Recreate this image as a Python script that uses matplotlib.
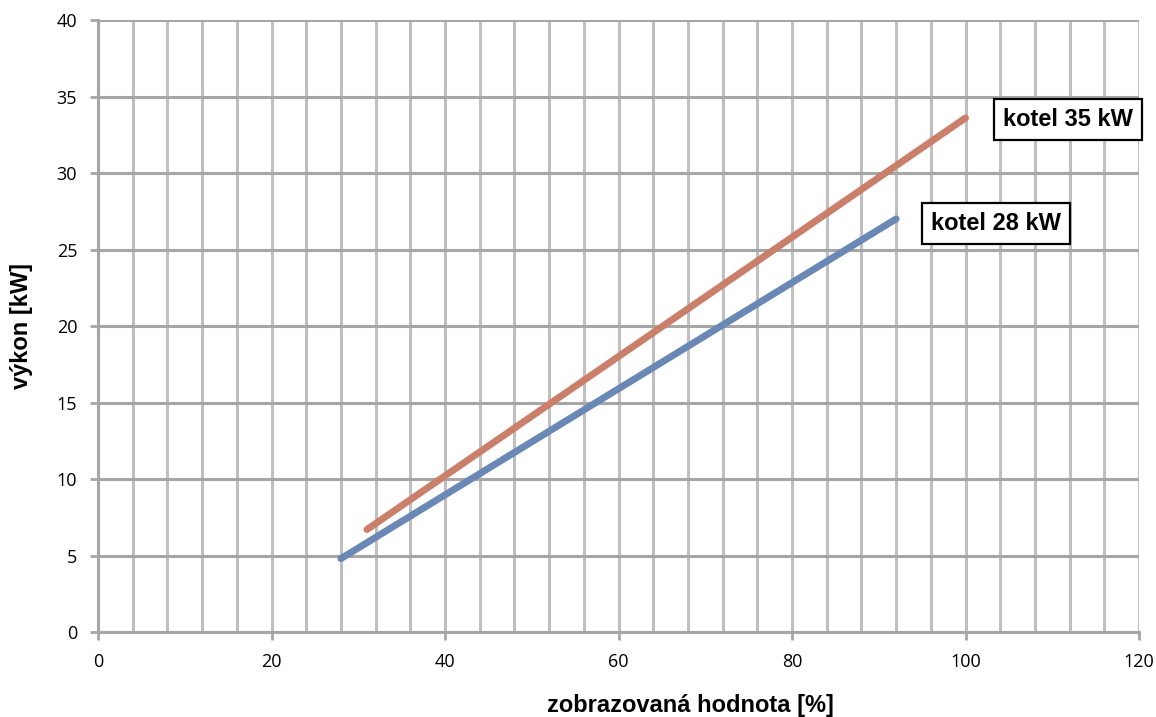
import matplotlib.pyplot as plt
import numpy as np

# data
x28 = [28, 92]
y28 = [4.8, 27.0]
x35 = [31, 100]
y35 = [6.7, 33.6]
labels = ["kotel 28 kW", "kotel 35 kW"]

plt.rcParams['font.family'] = ['Open Sans', 'DejaVu Sans']

fig = plt.figure(figsize=(11.56, 7.17), dpi=100)
ax = fig.add_axes([0.0848, 0.1185, 0.9005, 0.8536])

grid_col = "#BFBFBF"
ax.set_xlim(0, 120)
ax.set_ylim(0, 40)
ax.set_xticks(np.arange(0, 121, 20))
ax.set_yticks(np.arange(0, 41, 5))
ax.set_xticks(np.arange(0, 121, 4), minor=True)
ax.grid(which="both", axis="x", color=grid_col, lw=2.2)
ax.grid(which="major", axis="y", color="#A6A6A6", lw=2.2)
ax.tick_params(which="minor", length=0)
ax.tick_params(which="major", length=6, width=2, color="#A6A6A6", pad=9,
               labelsize=13)
for s in ["top", "right"]:
    ax.spines[s].set_visible(False)
for s in ["left", "bottom"]:
    ax.spines[s].set_color("#A6A6A6")
    ax.spines[s].set_linewidth(2.2)
ax.set_axisbelow(True)

ax.plot(x28, y28, color="#6A88B5", lw=5, solid_capstyle="round")
ax.plot(x35, y35, color="#C97F6A", lw=5, solid_capstyle="round")

bold = ["Liberation Sans", "DejaVu Sans"]
box = dict(boxstyle="square,pad=0.38", fc="white", ec="black", lw=1.6)
ax.text(103.5, 26.7, labels[0], ha="center", va="center", fontsize=17,
        fontweight="bold", family=bold, bbox=box, clip_on=False)
ax.text(111.8, 33.5, labels[1], ha="center", va="center", fontsize=17,
        fontweight="bold", family=bold, bbox=box, clip_on=False)

fig.text(0.597, 0.016, "zobrazovaná hodnota [%]", ha="center", va="center",
         fontsize=17, fontweight="bold", family=bold)
fig.text(0.019, 0.545, "výkon [kW]", ha="center", va="center", rotation=90,
         fontsize=17, fontweight="bold", family=bold)

fig.savefig("out.png", dpi=100)
